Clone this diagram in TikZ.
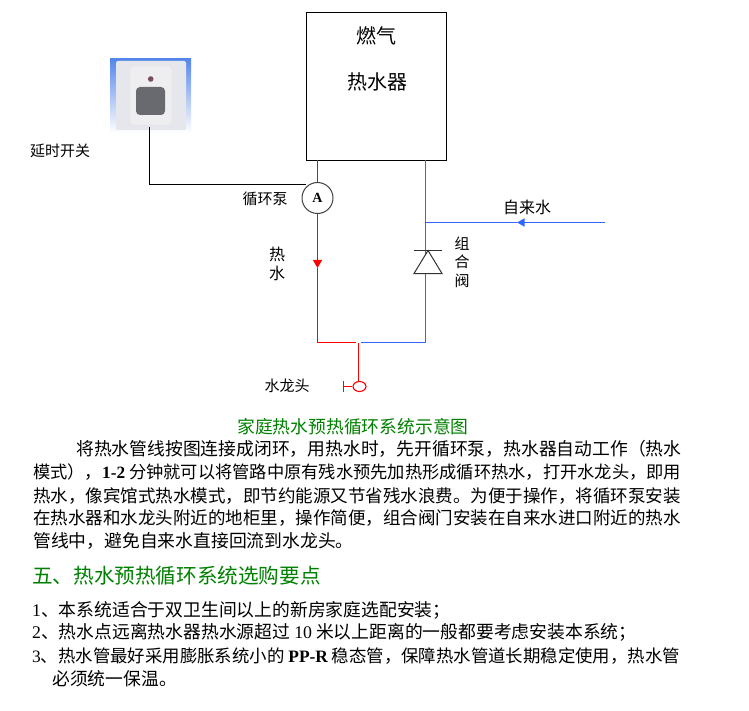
\documentclass[tikz,border=0pt]{standalone}
\usepackage{fontspec}
\setmainfont{Noto Sans CJK SC}
\newfontfamily\latinfont{Liberation Serif}
\usetikzlibrary{arrows.meta,shapes.geometric}
\definecolor{hotred}{RGB}{255,0,0}
\definecolor{coldblue}{RGB}{51,102,255}
\definecolor{titlegreen}{RGB}{0,128,0}
\definecolor{switchblue}{RGB}{85,135,235}
\definecolor{switchplate}{RGB}{230,231,236}
\definecolor{switchinner}{RGB}{238,238,241}
\definecolor{switchkey}{RGB}{105,106,112}
\definecolor{switchled}{RGB}{120,80,90}
\tikzset{
  blackwire/.style={draw=black, line width=1.2pt},
  hotpipe/.style={draw=hotred, line width=1.2pt},
  coldpipe/.style={draw=coldblue, line width=1.2pt},
  smalllabel/.style={inner sep=0pt, font=\fontsize{15}{15}\selectfont},
  boxlabel/.style={inner sep=0pt, font=\fontsize{20}{20}\selectfont},
  bodyline/.style={inner sep=0pt, anchor=west, font=\fontsize{17.8}{17.8}\selectfont},
}
\begin{document}
\begin{tikzpicture}[x=1pt,y=-1pt]
\useasboundingbox (0,0) rectangle (749,711);

% switch photo
\shade[top color=switchblue, bottom color=white] (110,59) rectangle (191,133);
\fill[switchplate, rounded corners=2pt] (116,61) rectangle (186,130);
\draw[black!12, fill=switchinner, rounded corners=3pt] (130,66) rectangle (172,125);
\fill[switchkey, rounded corners=4pt] (136,87) rectangle (165,115);
\fill[switchled] (150.7,79) circle (2.8);
\coordinate (switch) at (149.5,127);

\node[draw=black, line width=1.2pt, minimum width=140pt, minimum height=148pt, inner sep=0pt] (heater) at (376.5,86.5) {};
\node[boxlabel] (gas) at (376,36) {燃气};
\node[boxlabel] (heaterlabel) at (377,82) {热水器};

\node[draw=black!75, line width=1pt, circle, minimum size=31pt, inner sep=0pt, font=\latinfont\bfseries\fontsize{14}{14}\selectfont] (pump) at (317.5,198) {A};

\coordinate (hotout) at (317.5,160.5);
\coordinate (coldout) at (425.5,160.5);
\coordinate (hotarrow) at (317.5,268);
\coordinate (hotcorner) at (317.5,342.5);
\coordinate (coldcorner) at (425.5,342.5);
\coordinate (tee) at (358.5,342.5);
\coordinate (hotend) at (356,342.5);
\coordinate (coldend) at (361,342.5);
\coordinate (inlet) at (605,222.5);
\coordinate (inletarrow) at (517,222.5);
\coordinate (inletjoin) at (425.5,222.5);
\coordinate (pumpwire) at (306,184.5);

\draw[blackwire] (switch) |- (pumpwire);
\draw[hotpipe] (hotout) -- (pump);
\draw[hotpipe, -{Triangle[length=8pt,width=9pt]}] (pump) -- (hotarrow);
\draw[hotpipe] (hotarrow) -- (hotcorner) -- (hotend);
\draw[coldpipe] (coldout) -- (coldcorner) -- (coldend);
\draw[coldpipe, -{Triangle[length=7.5pt,width=8pt]}] (inlet) -- (inletarrow);
\draw[coldpipe] (inletarrow) -- (inletjoin);

% valve
\fill[white] (428,250.5) -- (414,273.5) -- (442,273.5) -- cycle;
\draw[black!80, line width=1pt] (414,250.5) -- (442,250.5);
\draw[black!80, line width=1pt] (428,250.5) -- (414,273.5) -- (442,273.5) -- cycle;

% faucet
\node[draw=hotred, line width=1.1pt, ellipse, minimum width=13pt, minimum height=10pt, inner sep=0pt] (faucet) at (359.5,386.5) {};
\coordinate (spout) at (343.5,386.5);
\draw[hotpipe] (tee) -- (faucet.north -| tee);
\draw[hotpipe] (faucet) -- (spout);
\draw[hotpipe] (343.5,381) -- (343.5,392);

\node[smalllabel] (switchlabel) at (60,151) {延时开关};
\node[smalllabel] (pumplabel) at (265,199) {循环泵};
\node[smalllabel, font=\fontsize{16}{16}\selectfont] (hotA) at (277,254) {热};
\node[smalllabel, font=\fontsize{16}{16}\selectfont] (hotB) at (277,273) {水};
\node[smalllabel] (valveA) at (462,244) {组};
\node[smalllabel] (valveB) at (462,262) {合};
\node[smalllabel] (valveC) at (462,281) {阀};
\node[smalllabel, font=\fontsize{16}{16}\selectfont] (inletlabel) at (527,207) {自来水};
\node[smalllabel] (faucetlabel) at (287,386) {水龙头};

\node[bodyline, anchor=center, text=titlegreen] (caption) at (353,427) {家庭热水预热循环系统示意图};
\node[bodyline] (paraA) at (76,449) {将热水管线按图连接成闭环，用热水时，先开循环泵，热水器自动工作（热水};
\node[bodyline, font=\fontsize{17.25}{17.25}\selectfont] (paraB) at (33,472) {模式），{\latinfont\bfseries 1-2} 分钟就可以将管路中原有残水预先加热形成循环热水，打开水龙头，即用};
\node[bodyline, font=\fontsize{17.5}{17.5}\selectfont] (paraC) at (33,496) {热水，像宾馆式热水模式，即节约能源又节省残水浪费。为便于操作，将循环泵安装};
\node[bodyline, font=\fontsize{17.5}{17.5}\selectfont] (paraD) at (33,518) {在热水器和水龙头附近的地柜里，操作简便，组合阀门安装在自来水进口附近的热水};
\node[bodyline] (paraE) at (33,541) {管线中，避免自来水直接回流到水龙头。};

\node[bodyline, text=titlegreen, font=\fontsize{20.6}{20.6}\selectfont] (heading) at (32,576) {五、热水预热循环系统选购要点};

\node[bodyline] (itemA) at (32,610) {{\latinfont 1}、本系统适合于双卫生间以上的新房家庭选配安装；};
\node[bodyline] (itemB) at (32,632) {{\latinfont 2}、热水点远离热水器热水源超过 {\latinfont 10} 米以上距离的一般都要考虑安装本系统；};
\node[bodyline, font=\fontsize{17.4}{17.4}\selectfont] (itemC) at (32,656) {{\latinfont 3}、热水管最好采用膨胀系统小的 {\latinfont\bfseries PP-R} 稳态管，保障热水管道长期稳定使用，热水管};
\node[bodyline] (itemD) at (52,679) {必须统一保温。};
\end{tikzpicture}
\end{document}
